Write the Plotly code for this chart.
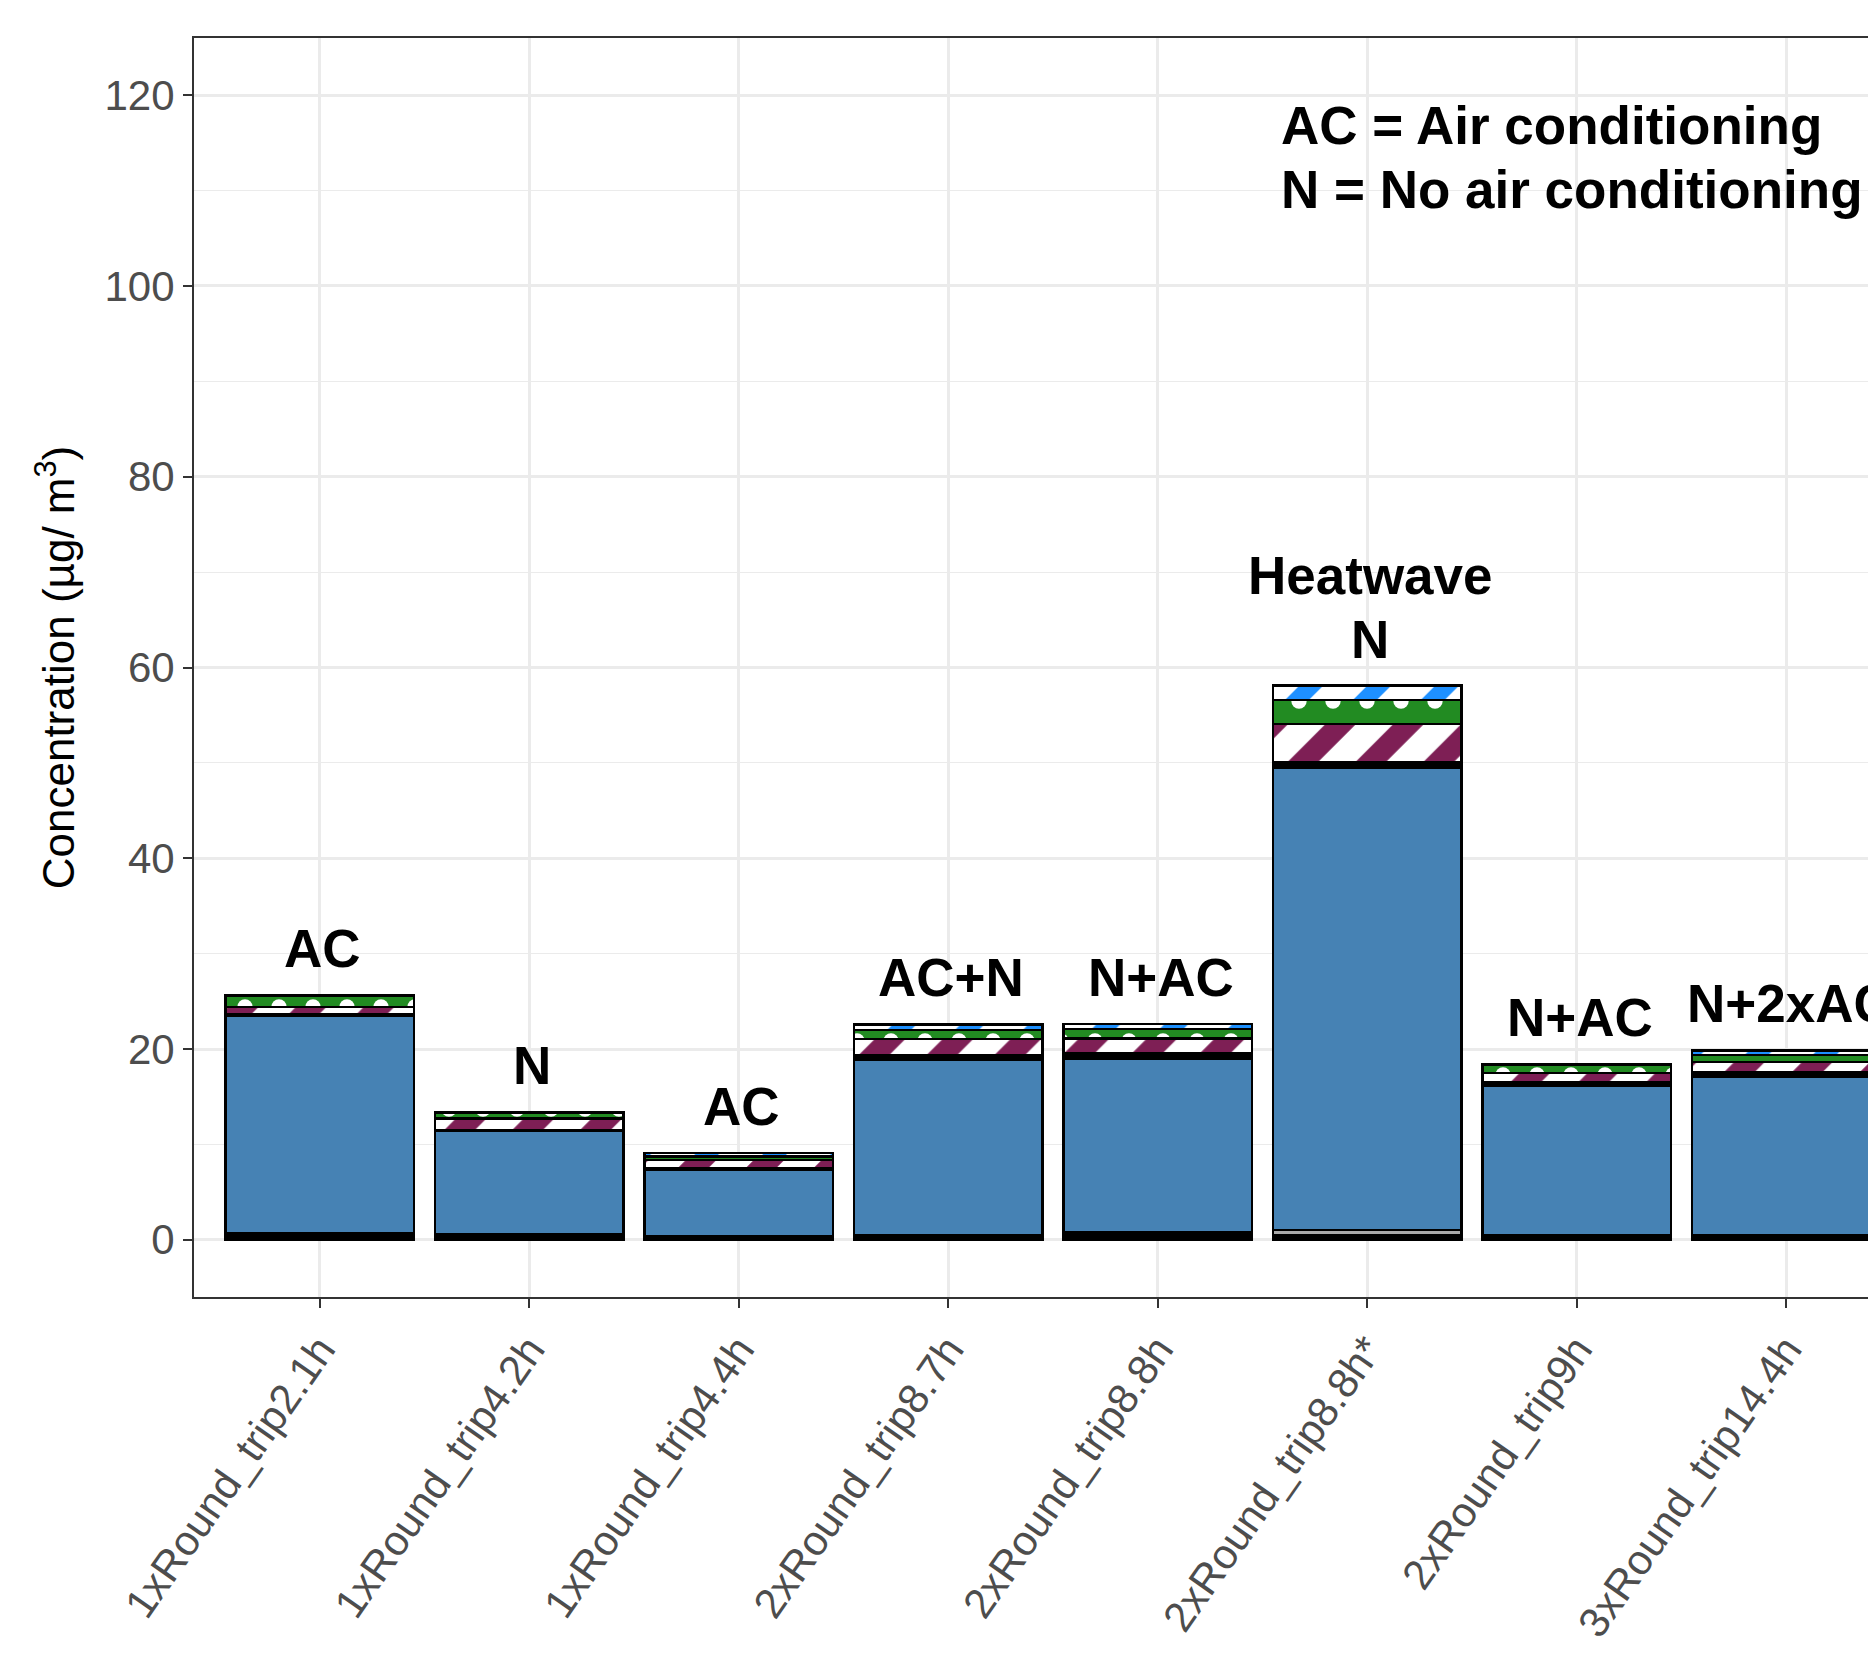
import plotly.graph_objects as go

categories = ["1xRound_trip2.1h", "1xRound_trip4.2h", "1xRound_trip4.4h",
              "2xRound_trip8.7h", "2xRound_trip8.8h", "2xRound_trip8.8h*",
              "2xRound_trip9h", "3xRound_trip14.4h"]
bar_labels = ["AC", "N", "AC", "AC+N", "N+AC", "Heatwave<br>N", "N+AC", "N+2xAC"]

# stacked segments, bottom to top (µg/m3)
seg_base = [0.7, 0.6, 0.4, 0.5, 0.8, 0.5, 0.45, 0.45]
seg_trace = [0, 0, 0, 0, 0, 0.5, 0, 0]
seg_main = [22.8, 10.83, 6.95, 18.36, 18.16, 48.5, 15.65, 16.6]
seg_dark = [0.1, 0.1, 0.1, 0.5, 0.58, 0.6, 0.4, 0.5]
seg_purple = [0.8, 1.17, 0.93, 1.7, 1.56, 4.0, 1.0, 1.1]
seg_green = [1.2, 0.6, 0.35, 0.95, 1.0, 2.5, 0.9, 0.7]
seg_blue_stripe = [0.05, 0.05, 0.35, 0.57, 0.53, 1.5, 0.05, 0.5]

y_ticks = [0, 20, 40, 60, 80, 100, 120]
legend_lines = ["AC = Air conditioning", "N = No air conditioning"]

FONT = "Liberation Sans, Arial, Helvetica, sans-serif"
LINE = dict(color="black", width=2.5)
W = 0.9

fig = go.Figure()

def add(vals, color, pattern=None):
    marker = dict(color=color, line=LINE)
    if pattern is not None:
        marker["pattern"] = pattern
    fig.add_trace(go.Bar(x=categories, y=vals, width=W, marker=marker,
                         showlegend=False, hoverinfo="skip"))

add(seg_base, "black")
add(seg_trace, "#A9A9A9")
add(seg_main, "#4682B4")
add(seg_dark, "black")
add(seg_purple, "#7E1F55", dict(shape="/", fgcolor="#7E1F55", bgcolor="white",
                                size=48, solidity=0.45, fgopacity=1))
add(seg_green, "#228B22", dict(shape=".", fgcolor="white", bgcolor="#228B22",
                               size=34, solidity=0.16, fgopacity=1))
add(seg_blue_stripe, "#1E90FF", dict(shape="/", fgcolor="#1E90FF", bgcolor="white",
                                     size=48, solidity=0.35, fgopacity=1))

totals = [sum(v) for v in zip(seg_base, seg_trace, seg_main, seg_dark,
                              seg_purple, seg_green, seg_blue_stripe)]

for cat, lab, tot in zip(categories, bar_labels, totals):
    lines = lab.split("<br>")
    for i, line in enumerate(reversed(lines)):
        fig.add_annotation(x=cat, y=tot, text="<b>%s</b>" % line, showarrow=False,
                           xanchor="center", yanchor="bottom",
                           xshift=3, yshift=15 + i * 63.5,
                           font=dict(family=FONT, size=53, color="black"))

for i, line in enumerate(legend_lines):
    fig.add_annotation(xref="paper", yref="paper", x=0.642, y=0.9304 - i * 0.0504,
                       text="<b>%s</b>" % line, showarrow=False,
                       xanchor="left", yanchor="middle",
                       font=dict(family=FONT, size=53, color="black"))

fig.update_layout(
    width=1876, height=1658,
    margin=dict(l=186, r=0, t=30, b=369, pad=0, autoexpand=False),
    barmode="stack",
    plot_bgcolor="white", paper_bgcolor="white",
    font=dict(family=FONT),
    bargap=0.1,
)
fig.update_xaxes(
    type="category", range=[-0.6, 7.467], automargin=False,
    showgrid=True, gridcolor="#EBEBEB", gridwidth=2.5,
    showline=True, linecolor="#333333", linewidth=2, mirror=True,
    ticks="outside", ticklen=9, tickwidth=2, tickcolor="#333333",
    tickangle=-55,
    tickfont=dict(family=FONT, size=42, color="#4D4D4D"),
    zeroline=False,
)
fig.update_yaxes(
    range=[-6, 126], tickvals=y_ticks, automargin=False,
    showgrid=True, gridcolor="#EBEBEB", gridwidth=2.5,
    minor=dict(tick0=10, dtick=20, showgrid=True, gridcolor="#EBEBEB", gridwidth=1.3),
    showline=True, linecolor="#333333", linewidth=2, mirror=False,
    ticks="outside", ticklen=9, tickwidth=2, tickcolor="#333333",
    tickfont=dict(family=FONT, size=42, color="#4D4D4D"),
    zeroline=False,
    title=dict(text="Concentration (µg/ m<sup>3</sup>)", standoff=16,
               font=dict(family=FONT, size=44, color="black")),
)

fig.write_html("out.html")
